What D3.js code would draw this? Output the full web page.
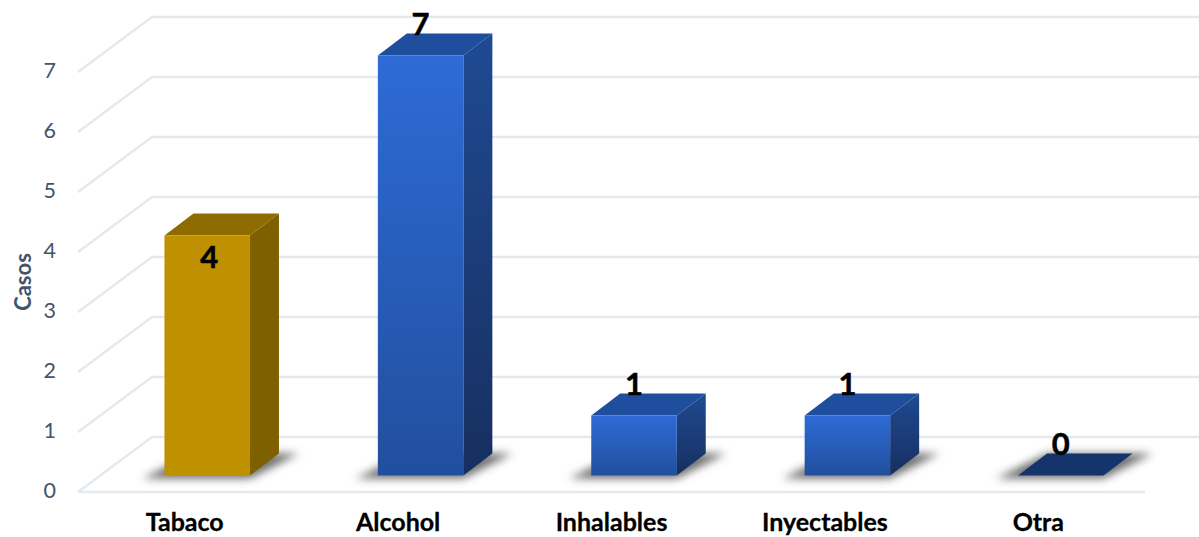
<!DOCTYPE html>
<html><head><meta charset="utf-8">
<script src="https://cdn.jsdelivr.net/npm/d3@7/dist/d3.min.js"></script>
<style>html,body{margin:0;padding:0;background:#fff}svg{display:block}</style>
</head><body><svg id="c" width="1199" height="537"></svg>
<script>
const categories = ["Tabaco","Alcohol","Inhalables","Inyectables","Otra"];
const casos = [4,7,1,1,0];
const yTicks = [0,1,2,3,4,5,6,7];
const yTitle = "Casos";
const palette = [
 {f0:"#BF9000",f1:"#BF9000",s0:"#7F6000",s1:"#7F6000",t:"#8F6C00"},
 {f0:"#2E6BD6",f1:"#214F9E",s0:"#1F4A92",s1:"#172F60",t:"#1F4E9E"},
 {f0:"#2E6BD6",f1:"#214F9E",s0:"#1F4A92",s1:"#172F60",t:"#1F4E9E"},
 {f0:"#2E6BD6",f1:"#214F9E",s0:"#1F4A92",s1:"#172F60",t:"#1F4E9E"},
 {f0:"#2E6BD6",f1:"#214F9E",s0:"#1F4A92",s1:"#172F60",t:"#15346B"}];

const svg = d3.select("#c");
const FONT = "Lato, 'Open Sans', sans-serif";
const DX = 29, DY = -22, GDX = 74, GDY = -55, BW = 85.5, TEXT="#44546A", GRID="#E4E8EF";
const x = d3.scaleBand().domain(categories).range([78,1145]);
const y = d3.scaleLinear().domain([0,7]).range([475.5,55.5]);
const yWall = d3.scaleLinear().domain([0,7]).range([492,72]);
const defs = svg.append("defs");
defs.append("filter").attr("id","blur").attr("x","-30%").attr("y","-80%").attr("width","160%").attr("height","260%")
  .append("feGaussianBlur").attr("stdDeviation",4.5);
palette.forEach((p,i)=>{
  const g=(id,a,b)=>{const l=defs.append("linearGradient").attr("id",id).attr("x1",0).attr("y1",0).attr("x2",0).attr("y2",1);
    l.append("stop").attr("offset",0).attr("stop-color",a);l.append("stop").attr("offset",1).attr("stop-color",b);};
  g("f"+i,p.f0,p.f1); g("s"+i,p.s0,p.s1);
});

// Walls and floor
const grid = svg.append("g").attr("fill","none").attr("stroke",GRID).attr("stroke-width",2.4);
yTicks.forEach(t=>{
  const a=yWall(t), b=a+GDY;
  grid.append("path").attr("d",`M78,${a}L${78+GDX},${b}L1199,${b}`);
});
grid.append("path").attr("d",`M78,${yWall(0)}H1145`);

// Axes
const gy = svg.append("g").attr("transform","translate(59,-1.5)")
  .call(d3.axisLeft(yWall).tickValues(yTicks).tickSize(0).tickFormat(d3.format("d")));
gy.select(".domain").remove();
gy.selectAll("text").attr("font-family",FONT).attr("font-size",21.5).attr("fill",TEXT);
const gx = svg.append("g").attr("transform","translate(0,510.5)")
  .call(d3.axisBottom(x).tickSize(0));
gx.select(".domain").remove();
gx.selectAll("text").attr("font-family",FONT).attr("font-size",25).attr("font-weight",700).attr("fill","#000").attr("stroke","#000").attr("stroke-width",0.3);
svg.append("text").text(yTitle).attr("transform","translate(31,282) rotate(-90)")
  .attr("text-anchor","middle").attr("font-family",FONT).attr("font-size",22).attr("font-weight",700).attr("fill",TEXT);

const left = d => x(d)+x.bandwidth()/2-BW/2+22.5;
const bars = svg.append("g").selectAll("g").data(categories).join("g");
// Shadows on the floor
bars.append("path").attr("fill","#6e6e6e").attr("filter","url(#blur)")
 .attr("d",d=>{const l=left(d),b=y(0)+3;
   return `M${l-22},${b}L${l+BW},${b}L${l+BW+DX+20},${b+DY-3}L${l+DX},${b+DY-3}Z`;});
// Top face
bars.append("path").attr("fill",(d,i)=>palette[i].t)
 .attr("d",(d,i)=>{const l=left(d),t=y(casos[i]);
   return `M${l},${t}L${l+BW},${t}L${l+BW+DX},${t+DY}L${l+DX},${t+DY}Z`;});
// Side face
bars.filter((d,i)=>casos[i]>0).append("path").attr("fill",d=>`url(#s${categories.indexOf(d)})`)
 .attr("d",d=>{const i=categories.indexOf(d),l=left(d)+BW,t=y(casos[i]),b=y(0);
   return `M${l},${t}L${l+DX},${t+DY}L${l+DX},${b+DY}L${l},${b}Z`;});
// Front face
bars.filter((d,i)=>casos[i]>0).append("rect").attr("fill",d=>`url(#f${categories.indexOf(d)})`)
 .attr("x",left).attr("width",BW)
 .attr("y",d=>y(casos[categories.indexOf(d)]))
 .attr("height",d=>y(0)-y(casos[categories.indexOf(d)]));
// Value labels
bars.append("text").text((d,i)=>casos[i])
 .attr("x",d=>left(d)+BW/2+(d==="Tabaco"?2:0))
 .attr("y",(d,i)=>y(casos[i])+(d==="Tabaco"?32.5:-21))
 .attr("text-anchor","middle").attr("font-family",FONT).attr("font-size",31).attr("font-weight",700).attr("fill","#000").attr("stroke","#000").attr("stroke-width",0.5);
</script></body></html>
